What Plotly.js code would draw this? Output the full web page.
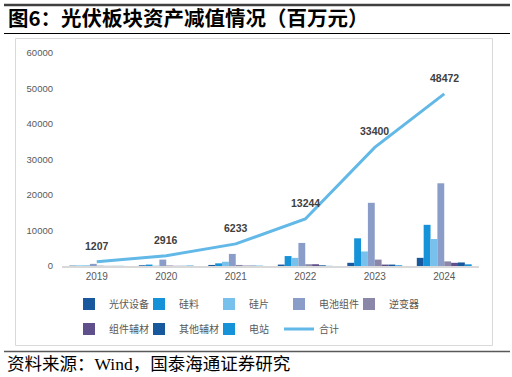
<!DOCTYPE html>
<html><head><meta charset="utf-8">
<script src="https://cdn.plot.ly/plotly-3.0.1.min.js"></script>
<style>html,body{margin:0;padding:0;background:#fff;}#chart{width:512px;height:377px;}</style>
</head><body><div id="chart"></div>
<script>
const years = ['2019','2020','2021','2022','2023','2024'];
const seriesNames = ['光伏设备','硅料','硅片','电池组件','逆变器','组件辅材','其他辅材','电站'];
const pvEquipment = [100, 200, 300, 400, 900, 2300];
const polysilicon = [100, 400, 750, 2800, 7800, 11600];
const wafer = [200, 100, 1200, 2300, 4100, 7600];
const cellModule = [600, 1800, 3400, 6500, 17800, 23300];
const inverter = [100, 150, 300, 500, 1800, 1300];
const moduleAux = [30, 50, 100, 500, 400, 900];
const otherAux = [30, 50, 100, 200, 400, 1000];
const powerStation = [46, 116, 83, 44, 200, 472];
const totals = [1207, 2916, 6233, 13244, 33400, 48472];
const totalName = '合计';

const seriesValues = [pvEquipment, polysilicon, wafer, cellModule, inverter, moduleAux, otherAux, powerStation];
const colors = ['#17599c','#1592d8','#78c1ec','#8a9dc9','#8b87a9','#5f4f8b','#17599c','#1592d8'];

const L=62, R=479, T=53, B=266;
const px2x = p => (p - L) / (R - L);
const py2y = q => (B - q) / (B - T);

const traces = seriesNames.map((n,i)=>({
  type:'bar', name:n, x:years, y:seriesValues[i],
  marker:{color:colors[i]}, hoverinfo:'skip',
  legend: i < 5 ? 'legend' : 'legend2'
}));
traces.push({
  type:'scatter', mode:'lines', name:totalName, x:years, y:totals,
  line:{color:'#62b8e6', width:3}, hoverinfo:'skip', legend:'legend2'
});

const labelAnns = years.map((yr,i)=>({
  x:i, y:totals[i], xref:'x', yref:'y', text:'<b>'+totals[i]+'</b>', showarrow:false,
  yanchor:'middle', yshift:16,
  font:{family:'Liberation Sans, Arial, sans-serif', size:10.5, color:'#404040'}
}));

const font = 'Noto Sans CJK SC, sans-serif';
const legendBase = {orientation:'h', xanchor:'left', yanchor:'top',
    entrywidth:25, entrywidthmode:'pixels', traceorder:'normal',
    font:{family:font, size:10, color:'#595959'}, itemwidth:30, tracegroupgap:0, bgcolor:'rgba(0,0,0,0)'};
const layout = {
  width:512, height:377,
  margin:{l:L, r:512-R, t:T, b:377-B, pad:0},
  paper_bgcolor:'#fff', plot_bgcolor:'#fff',
  showlegend:true,
  barmode:'group', bargap:0.21, bargroupgap:0,
  font:{family:font, color:'#595959'},
  title:{text:'<b>图6：光伏板块资产减值情况（百万元）</b>', x:8/512, xanchor:'left', xref:'container',
    y:1-19/377, yref:'container', yanchor:'middle', font:{family:font, size:20.5, color:'#000'}},
  xaxis:{type:'category', range:[-0.5, years.length-0.5], autorange:false, showline:true, linecolor:'#d9d9d9', linewidth:1.5, ticks:'',
    tickfont:{family:'Liberation Sans, sans-serif', size:10, color:'#595959'}, showgrid:false, zeroline:false, fixedrange:true},
  yaxis:{range:[0,60000], autorange:false, dtick:10000, showgrid:false, zeroline:false, showline:false, ticks:'',
    tickformat:'d', ticklabelstandoff:8,
    tickfont:{family:'Liberation Sans, sans-serif', size:9.5, color:'#595959'}, fixedrange:true},
  legend:Object.assign({}, legendBase, {x:px2x(69), y:py2y(289.5)}),
  legend2:Object.assign({}, legendBase, {x:px2x(69), y:py2y(314.5)}),
  shapes:[
    {type:'line', xref:'paper', yref:'paper', x0:px2x(4), x1:px2x(510), y0:py2y(5), y1:py2y(5), line:{color:'#404040', width:2.5}},
    {type:'line', xref:'paper', yref:'paper', x0:px2x(4), x1:px2x(510), y0:py2y(33.5), y1:py2y(33.5), line:{color:'#000', width:1}},
    {type:'rect', xref:'paper', yref:'paper', x0:px2x(15.5), x1:px2x(492.5), y0:py2y(38.5), y1:py2y(345.5), line:{color:'#d9d9d9', width:1}},
    {type:'line', xref:'paper', yref:'paper', x0:px2x(4), x1:px2x(510), y0:py2y(351.5), y1:py2y(351.5), line:{color:'#595959', width:1.5}}
  ],
  annotations:labelAnns.concat([
    {text:'资料来源：Wind，国泰海通证券研究', xref:'paper', yref:'paper', x:px2x(5), y:py2y(364), xanchor:'left', yanchor:'middle', showarrow:false,
     font:{family:'Liberation Serif, Noto Sans CJK SC, serif', size:17.5, color:'#000'}}
  ])
};
Plotly.newPlot('chart', traces, layout, {staticPlot:true, displayModeBar:false});
</script></body></html>
